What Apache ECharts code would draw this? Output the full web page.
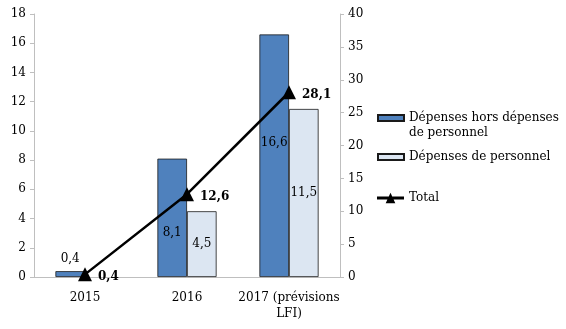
<!DOCTYPE html>
<html><head><meta charset="utf-8">
<script src="https://cdn.jsdelivr.net/npm/echarts@6/dist/echarts.min.js"></script>
<style>html,body{margin:0;padding:0;background:#fff}#c{width:566px;height:329px}</style>
</head><body><div id="c"></div>
<script>
const categories = ['2015', '2016', '2017 (prévisions\nLFI)'];
const horsPersonnel = [0.4, 8.1, 16.6];
const personnel = [null, 4.5, 11.5];
const total = [0.4, 12.6, 28.1];
const leftTicks = {min: 0, max: 18, interval: 2};
const rightTicks = {min: 0, max: 40, interval: 5};
const names = ['Dépenses hors dépenses de personnel', 'Dépenses de personnel', 'Total'];

const FONT = 'DejaVu Serif';
const fmt = v => String(v).replace('.', ',');
const legendText = {fontFamily: FONT, fontSize: 12, color: '#000', lineHeight: 16};
const mkLegend = (name, top, extra) => Object.assign({
  orient: 'vertical', left: 377, top: top, padding: 0, itemWidth: 26, itemHeight: 6, itemGap: 0,
  textStyle: legendText, selectedMode: false,
  formatter: n => n === names[0] ? 'Dépenses hors dépenses' : n,
  data: [name]
}, extra || {});
const chart = echarts.init(document.getElementById('c'));
chart.setOption({
  animation: false,
  textStyle: {fontFamily: FONT},
  grid: {left: 34, right: 226, top: 14, bottom: 52},
  legend: [
    mkLegend(names[0], 110, {icon: 'rect'}),
    mkLegend(names[1], 149, {icon: 'rect'}),
    mkLegend(names[2], 190, {data: [{name: names[2], icon: 'path://M0,4H28V7H0Z M9,11L14,0L19,11Z'}], itemHeight: 11, itemWidth: 27})
  ],
  graphic: [{type: 'text', left: 409, top: 127, style: {text: 'de personnel', font: '12px "DejaVu Serif"', fill: '#000'}}],
  xAxis: {
    type: 'category', data: categories,
    axisLine: {lineStyle: {color: '#BFBFBF', width: 1}},
    axisTick: {alignWithLabel: false, lineStyle: {color: '#BFBFBF'}, length: 5},
    axisLabel: {interval: 0, color: '#000', fontSize: 12, fontFamily: FONT, margin: 13, lineHeight: 16}
  },
  yAxis: [
    {type: 'value', ...leftTicks, splitLine: {show: false},
     axisLine: {show: true, lineStyle: {color: '#BFBFBF'}},
     axisTick: {show: true, lineStyle: {color: '#BFBFBF'}, length: 4},
     axisLabel: {color: '#000', fontSize: 12, fontFamily: FONT, margin: 8}},
    {type: 'value', ...rightTicks, position: 'right', splitLine: {show: false},
     axisLine: {show: true, lineStyle: {color: '#BFBFBF'}},
     axisTick: {show: true, lineStyle: {color: '#BFBFBF'}, length: 4},
     axisLabel: {color: '#000', fontSize: 12, fontFamily: FONT, margin: 8}}
  ],
  series: [
    {name: names[0], type: 'bar', yAxisIndex: 0, barGap: '0%', barCategoryGap: '42%',
     data: horsPersonnel.map((v, i) => ({value: v, label: i === 0 ? {position: 'top', distance: 6} : {offset: [0, i === 1 ? 15 : -13]}})),
     itemStyle: {color: '#4F81BD', borderColor: '#1a1a1a', borderWidth: 0.8},
     label: {show: true, position: 'inside', color: '#000', fontSize: 12, fontFamily: FONT, formatter: p => fmt(p.value)}},
    {name: names[1], type: 'bar', yAxisIndex: 0,
     data: personnel,
     itemStyle: {color: '#DCE6F2', borderColor: '#1a1a1a', borderWidth: 0.8},
     label: {show: true, position: 'inside', color: '#000', fontSize: 12, fontFamily: FONT, formatter: p => fmt(p.value)}},
    {name: names[2], type: 'line', yAxisIndex: 1, data: total, z: 5,
     symbol: 'triangle', symbolSize: 14,
     lineStyle: {color: '#000', width: 2.5}, itemStyle: {color: '#000'},
     label: {show: true, position: 'right', distance: 6, offset: [0, 3], color: '#000', fontWeight: 'bold', fontSize: 12, fontFamily: FONT, formatter: p => fmt(p.value)}}
  ]
});
</script></body></html>
